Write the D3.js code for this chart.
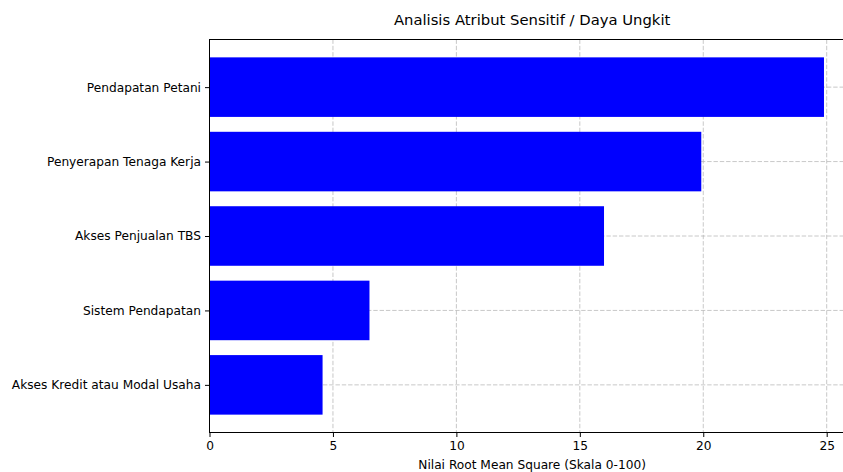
<!DOCTYPE html>
<html>
<head>
<meta charset="utf-8">
<script src="https://cdn.jsdelivr.net/npm/d3@7"></script>
<style>
  html, body { margin: 0; padding: 0; background: #fff; }
  svg { display: block; font-family: "DejaVu Sans", sans-serif; }
</style>
</head>
<body>
<div id="chart"></div>
<script>
const categories = ["Pendapatan Petani", "Penyerapan Tenaga Kerja", "Akses Penjualan TBS", "Sistem Pendapatan", "Akses Kredit atau Modal Usaha"];
const values = [24.89, 19.92, 15.98, 6.48, 4.58];
const xTicks = [0, 5, 10, 15, 20, 25];
const title = "Analisis Atribut Sensitif / Daya Ungkit";
const xLabel = "Nilai Root Mean Square (Skala 0-100)";

(function () {
const W = 843, H = 472;
const mLeft = 209.5, mTop = 39.5, mBottom = 432.5;
const xMax = d3.max(values) * 1.05;
const pxPerUnit = (826.7 - 209.5) / 25;
const mRight = mLeft + xMax * pxPerUnit;

const svg = d3.select("#chart").append("svg").attr("width", W).attr("height", H);

const x = d3.scaleLinear().domain([0, xMax]).range([mLeft, mRight]);
const n = categories.length;
const yLin = d3.scaleLinear().domain([-0.4 - 0.05 * (n - 0.2), n - 1 + 0.4 + 0.05 * (n - 0.2)]).range([mTop, mBottom]);
const barH = yLin(0.8) - yLin(0);

const gridColor = "#b0b0b0";
const g = svg.append("g");

g.selectAll("line.vg").data(xTicks).enter().append("line")
  .attr("x1", d => x(d)).attr("x2", d => x(d)).attr("y1", mTop).attr("y2", mBottom)
  .attr("stroke", gridColor).attr("stroke-opacity", 0.7).attr("stroke-width", 1)
  .attr("stroke-dasharray", "4.4,1.9");
g.selectAll("line.hg").data(categories).enter().append("line")
  .attr("x1", mLeft).attr("x2", mRight).attr("y1", (d, i) => yLin(i)).attr("y2", (d, i) => yLin(i))
  .attr("stroke", gridColor).attr("stroke-opacity", 0.7).attr("stroke-width", 1)
  .attr("stroke-dasharray", "4.4,1.9");

g.selectAll("rect.bar").data(values).enter().append("rect")
  .attr("x", x(0)).attr("y", (d, i) => yLin(i) - barH / 2)
  .attr("width", d => x(d) - x(0)).attr("height", barH)
  .attr("fill", "#0000ff");

svg.append("rect").attr("x", mLeft).attr("y", mTop).attr("width", mRight - mLeft).attr("height", mBottom - mTop)
  .attr("fill", "none").attr("stroke", "#000").attr("stroke-width", 1);

const xAxis = d3.axisBottom(x).tickValues(xTicks).tickSize(4.5).tickPadding(4).tickFormat(d3.format("d"));
const xa = svg.append("g").attr("transform", `translate(0,${mBottom})`).call(xAxis);
xa.select(".domain").remove();
xa.selectAll("text").attr("font-size", "12.2px").attr("fill", "#000").attr("font-family", "DejaVu Sans, sans-serif");
xa.selectAll("line").attr("stroke", "#000");

const yBand = d3.scalePoint().domain(categories).range([yLin(0), yLin(n - 1)]);
const yAxis = d3.axisLeft(yBand).tickSize(4.5).tickPadding(4);
const ya = svg.append("g").attr("transform", `translate(${mLeft},0)`).call(yAxis);
ya.select(".domain").remove();
ya.selectAll("text").attr("font-size", "12.2px").attr("fill", "#000").attr("font-family", "DejaVu Sans, sans-serif");
ya.selectAll("line").attr("stroke", "#000");

svg.append("text").attr("x", (mLeft + mRight) / 2).attr("y", 25)
  .attr("text-anchor", "middle").attr("font-size", "14.8px").attr("fill", "#000").text(title);

svg.append("text").attr("x", (mLeft + mRight) / 2).attr("y", 469)
  .attr("text-anchor", "middle").attr("font-size", "12.2px").attr("fill", "#000").text(xLabel);
})();
</script>
</body>
</html>
